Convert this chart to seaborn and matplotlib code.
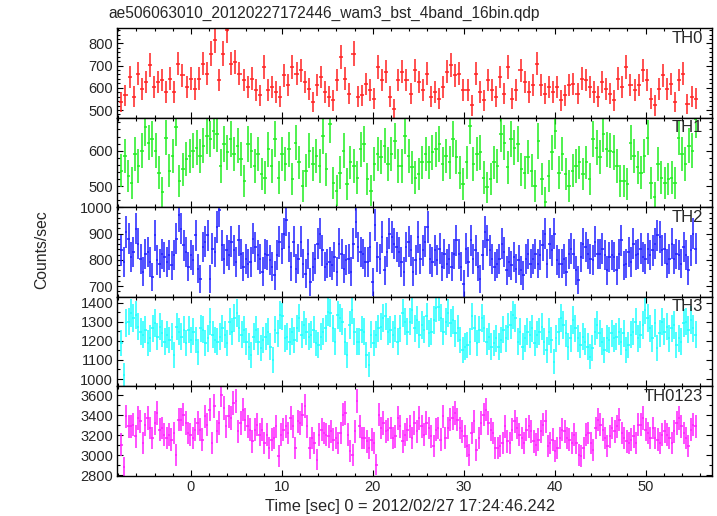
import numpy as np
import matplotlib
matplotlib.use("Agg")
import matplotlib.pyplot as plt
import seaborn as sns
from matplotlib.ticker import MultipleLocator

# light curves (counts/sec), one list per band
th0 = [536, 566, 649, 559, 664, 596, 626, 702, 604, 626, 634, 581, 641, 581, 709, 657, 604, 641, 596, 641,
       709, 664, 754, 815, 634, 754, 860, 709, 717, 664, 634, 604, 641, 589, 566, 694, 589, 604, 581, 559,
       657, 611, 694, 664, 679, 626, 596, 536, 611, 649, 581, 559, 544, 634, 739, 641, 574, 754, 559, 566,
       619, 589, 551, 694, 634, 672, 559, 506, 634, 672, 634, 574,
       679, 626, 589, 664, 559, 581, 551, 604, 672, 702, 657, 664, 589, 589, 521, 664, 581, 544, 634, 589,
       559, 649, 574, 694, 551, 589, 679, 626, 581, 611, 709, 611, 574, 604, 581, 604, 544, 566, 611, 619,
       574, 641, 634, 604, 581, 559, 626, 596, 574, 544, 641, 604, 694, 611, 589, 611, 679, 634, 551, 521,
       596, 657, 596, 619, 536, 634, 664, 528, 559, 551]

th1 = [543, 586, 529, 510, 590, 557, 600, 666, 623, 633, 600, 538, 482, 637, 543, 586, 666, 515, 548, 576,
       586, 600, 609, 586, 614, 642, 633, 656, 647, 557, 619, 595, 633, 590, 614, 576, 515, 619, 600, 557,
       590, 534, 524, 604, 557, 633, 524, 590, 562, 604, 520, 623, 567, 501, 543, 600, 562, 586, 557, 642,
       548, 675, 510, 487, 538, 600, 505, 567, 557, 524, 604, 619, 520, 487, 562, 590, 581, 614, 562, 590,
       628, 557,
       557, 642, 586, 553, 524, 534, 567, 590, 567, 595, 604, 619, 562, 586, 567, 633, 581, 538, 505, 567,
       670, 562, 590, 595, 524, 496, 520, 567, 557, 647, 623, 553, 633, 609, 619, 548, 538, 581, 543, 501,
       628, 520, 454, 529, 595, 656, 538, 590, 534, 501, 543, 557, 567, 534, 567, 520, 633, 609, 581, 647,
       604, 600, 595, 557, 515, 515, 505, 623, 586, 553, 538, 586, 637, 510, 468, 562, 524, 510, 520, 524,
       510, 637, 590, 562, 614, 600, 689]

th2 = [836, 792, 906, 881, 811, 830, 919, 862, 804, 754, 823, 830, 792, 734, 893, 798, 785, 823, 811, 792,
       817, 779, 817, 881, 970, 919, 855, 830, 773, 817, 798, 893, 766, 728, 849, 868, 893, 728, 843, 830,
       925, 989, 855, 804, 836, 817, 868, 836, 792, 874, 823, 773, 804, 785, 792, 881, 849, 817, 804, 754,
       823, 817, 798, 773, 741, 817, 868, 843, 900, 951, 849, 773, 868, 766, 804, 868, 785, 747, 823, 715,
       773, 804, 862, 900, 836, 773, 785, 792, 779, 811, 754, 862, 823, 766, 798, 804, 754, 862, 944, 849,
       830, 823, 792, 792, 849, 715, 932, 811, 804, 887, 760, 830, 900, 887, 862, 849, 830, 792, 754, 849,
       868, 836,
       754, 798, 887, 804, 836, 868, 925, 804, 792, 836, 798, 843, 773, 823, 785, 804, 773, 823, 874, 823,
       773, 709, 843, 792, 874, 804, 836, 773, 728, 817, 906, 874, 836, 804, 773, 785, 804, 862, 830, 760,
       792, 779, 811, 766, 798, 760, 741, 804, 823, 785, 804, 823, 785, 817, 855, 900, 785, 862, 836, 900,
       798, 785, 785, 804, 754, 823, 843, 823, 760, 722, 811, 862, 849, 823, 804, 798, 868, 823, 823, 843,
       817, 760, 811, 817, 811, 760, 823, 874, 779, 785, 830, 792, 862, 817, 823, 843, 811, 804, 843, 817,
       836, 862, 893, 887, 836, 843, 785, 804, 862, 804, 823, 817, 785, 849, 817, 760, 836, 900, 843]

th3 = [1187, 1021, 1292, 1300, 1344, 1318, 1335, 1274, 1248, 1231, 1257, 1187, 1213, 1266, 1292, 1222, 1274, 1239, 1196, 1231,
       1205, 1222, 1126, 1274, 1248, 1222, 1257, 1187, 1257, 1205, 1248, 1205, 1143, 1266, 1257, 1187, 1213, 1300, 1231, 1205,
       1196, 1222, 1266, 1231, 1187, 1300, 1248, 1318, 1344, 1266, 1231, 1257, 1196, 1170, 1126, 1222, 1257, 1196, 1161, 1205,
       1222, 1248, 1170, 1100, 1257, 1239, 1335, 1327, 1213, 1222, 1196, 1248, 1205, 1266, 1318, 1231, 1283, 1248, 1222, 1231,
       1257, 1187, 1178, 1222, 1248, 1266, 1353, 1344, 1266, 1196, 1335, 1318, 1300, 1196, 1126, 1283, 1362, 1248, 1196, 1196,
       1257, 1248, 1126, 1074, 1231, 1187, 1231, 1266, 1274, 1318, 1327, 1248, 1257, 1231, 1266, 1196, 1266, 1344, 1300, 1248,
       1300, 1362, 1266, 1309, 1231, 1283, 1257, 1327, 1239, 1248, 1309, 1370, 1379, 1318, 1248, 1300, 1344, 1292, 1309, 1239,
       1266, 1205, 1152, 1170, 1178, 1196, 1327, 1266, 1187, 1257, 1318, 1266, 1196, 1222, 1170, 1187, 1213, 1170, 1205, 1257,
       1213, 1274, 1283, 1335, 1318, 1196, 1248, 1170, 1213, 1248, 1231, 1266, 1187, 1231, 1248, 1274, 1196, 1152, 1248, 1205,
       1091, 1213, 1248, 1318, 1283, 1239, 1170, 1213, 1309, 1266, 1213, 1178, 1222, 1196, 1170, 1117, 1161, 1248, 1283, 1239,
       1196, 1152, 1213, 1205, 1239, 1213, 1222, 1248, 1196, 1239, 1152, 1178, 1231, 1248, 1300, 1213, 1231, 1283, 1362, 1318,
       1266, 1213, 1292, 1161, 1239, 1300, 1248, 1274, 1213, 1266, 1283, 1178, 1213, 1196, 1292, 1300, 1257, 1309, 1266, 1231]

th0123 = [3107, 2880, 3390, 3290, 3290, 3307, 3190, 3373, 3340, 3123, 3307, 3373, 3273, 3173, 3323, 3423, 3257, 3273, 3207, 3173,
          3207, 3157, 3223, 3007, 3357, 3357, 3407, 3323, 3223, 3207, 3173, 3257, 3323, 3257, 3157, 3390, 3307, 3457, 3123, 3490,
          3240, 3323, 3600, 3473, 3290, 3390, 3373, 3523, 3540, 3240, 3323, 3457, 3357, 3290, 3257, 3140, 3257, 3307, 3207, 3257,
          3123, 3207, 3073, 3157, 3173, 3290, 2990, 3207, 3257, 3290, 3223, 3373, 3290, 3073, 3340, 3323, 3407, 3490, 3290, 3073,
          3173, 3123, 2957, 3207, 3257, 3223, 3207, 3190, 3240, 3157, 3173, 3123, 3223, 3407, 3423, 3207, 3040, 3007, 3240, 3540,
          3290, 3173, 3173, 3140, 3073, 3157, 3123, 2907, 3407, 3273, 3323, 3240, 3257, 3273, 3173, 3190, 3373, 3290, 3140, 3207,
          3257, 3290, 3173,
          3323, 3240, 3373, 3290, 3207, 3323, 3273, 3190, 3090, 3257, 3273, 3157, 3390, 3173, 3273, 3357, 3373, 3423, 3357, 3273,
          3240, 3190, 3090, 3007, 3223, 3340, 3057, 3173, 3323, 3407, 3457, 3323, 3257, 3223, 3073, 3073, 3090, 3123, 3290, 3140,
          3123, 3257, 3340, 3273, 3207, 3173, 3123, 3257, 3290, 3240, 3140, 3107, 3157, 3240, 3307, 3340, 3090, 3123, 3157, 3040,
          3073, 3173, 3257, 3240, 3173, 3157, 3123, 3207, 3123, 3007, 2990, 3073, 3207, 3223, 3123, 3057, 3273, 3357, 3307, 3257,
          3173, 3090, 3190, 3273, 3240, 3290, 3357, 3223, 3173, 3140, 3123, 3157, 3190, 3123, 3307, 3307, 3373, 3257, 3223, 3173,
          3273, 3173, 3157, 3123, 3207, 3240, 3207, 3173, 3123, 3240, 3323, 3373, 3290, 3223, 3173, 3090, 3257, 3307, 3290]

names = ["TH0", "TH1", "TH2", "TH3", "TH0123"]
series = [th0, th1, th2, th3, th0123]
colors = ["#ff2020", "#20ee20", "#2020ff", "#20ffff", "#ff20ff"]
ylims = [(465, 868), (440, 693), (659, 1000), (962, 1430), (2795, 3690)]
major = [100, 100, 100, 100, 200]
minor = [20, 20, 20, 50, 100]

t_first, t_last = -7.65, 55.5
exposure = 0.25  # sec, sets the error bar size

sns.set_style("ticks")
plt.rcParams["font.family"] = ["Liberation Sans", "DejaVu Sans"]

fig = plt.figure(figsize=(7.17, 5.16), dpi=100)
W, H = 717, 516
left, right = 117.3, 712
top, ph = 28.3, 89.5

for i, name in enumerate(names):
    y0 = top + ph * (i + 1)
    ax = fig.add_axes([left / W, 1 - y0 / H, (right - left) / W, ph / H])
    rate = np.array(series[i], dtype=float)
    t = np.linspace(t_first, t_last, len(rate))
    hw = (t_last - t_first) / (len(rate) - 1) / 2
    err = np.sqrt(rate / exposure)
    ax.errorbar(t, rate, xerr=hw, yerr=err, fmt="none", ecolor=colors[i],
                elinewidth=1.1, capsize=0)
    ax.set_xlim(-8.1, 57.3)
    ax.set_ylim(*ylims[i])
    ax.xaxis.set_major_locator(MultipleLocator(10))
    ax.xaxis.set_minor_locator(MultipleLocator(2))
    ax.yaxis.set_major_locator(MultipleLocator(major[i]))
    ax.yaxis.set_minor_locator(MultipleLocator(minor[i]))
    ax.tick_params(which="both", direction="in", top=True, right=True,
                   labelsize=10.5, width=0.8, color="black", pad=3)
    ax.tick_params(which="major", length=4.5)
    ax.tick_params(which="minor", length=2.2)
    ax.tick_params(axis="x", labelbottom=(i == len(names) - 1))
    for s in ax.spines.values():
        s.set_linewidth(1.0)
        s.set_color("black")
    ax.text(0.985, 0.97, name, transform=ax.transAxes, ha="right", va="top",
            fontsize=12)

fig.text(108 / W, 1 - 13 / H, "ae506063010_20120227172446_wam3_bst_4band_16bin.qdp",
         ha="left", va="center", fontsize=11.2)
fig.text(410 / W, 1 - 507 / H, "Time [sec] 0 = 2012/02/27 17:24:46.242",
         ha="center", va="center", fontsize=11.8)
fig.text(42 / W, 1 - 250 / H, "Counts/sec", rotation=90, ha="center", va="center",
         fontsize=11.3)

fig.savefig("out.png", dpi=100)
